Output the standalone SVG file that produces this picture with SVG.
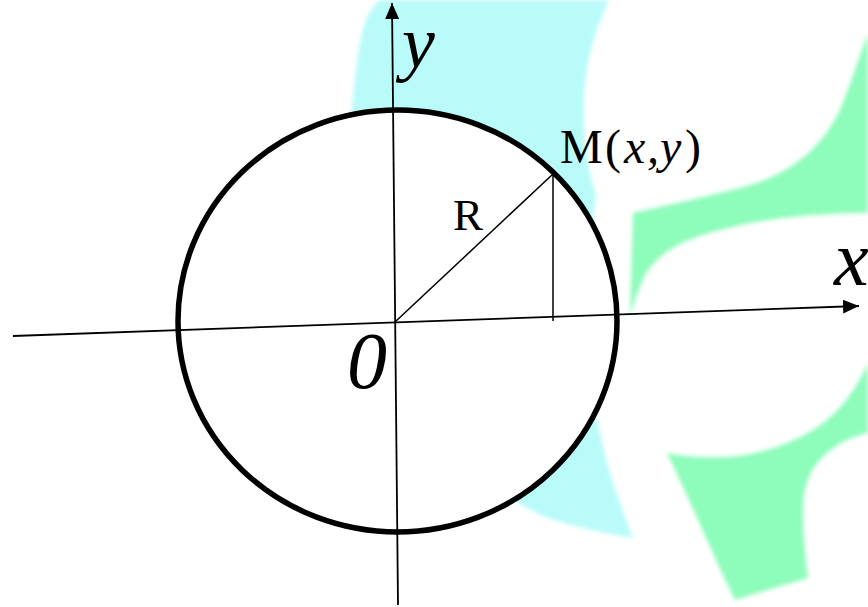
<svg xmlns="http://www.w3.org/2000/svg" width="868" height="607" viewBox="0 0 868 607">
  <style>
    .bg-cyan { fill: #b9fbf9; }
    .bg-green { fill: #8efcbb; }
    .axis { stroke: #000; stroke-width: 1.8; fill: none; }
    .thin { stroke: #000; stroke-width: 1.5; fill: none; }
    .circle { stroke: #000; stroke-width: 5.5; fill: #fff; }
    .lbl { font-family: "Liberation Serif", "Times New Roman", serif; fill: #000; }
    .it { font-style: italic; }
  </style>
  <defs>
    <filter id="soft" x="-10%" y="-10%" width="120%" height="120%">
      <feGaussianBlur stdDeviation="2"/>
    </filter>
    <marker id="arrow" markerUnits="userSpaceOnUse" markerWidth="17" markerHeight="15" refX="16" refY="7" orient="auto">
      <path d="M0,0 L16,7 L0,14 Z" fill="#000"/>
    </marker>
  </defs>
  <rect width="868" height="607" fill="#fff"/>
  <g id="background" filter="url(#soft)">
    <path class="bg-cyan" d="M 380,0 L 609,0 C 600,20 590,45 586,75 C 581,110 584,160 596,195 L 592,225 L 400,250 L 351,118 C 355,80 358,40 366,20 C 370,10 375,4 380,0 Z"/>
    <path class="bg-cyan" d="M 585,400 L 597,420 C 600,435 604,450 607,463 C 612,480 620,505 633,538 C 605,533 575,528 540,515 L 518,503 L 500,480 Z"/>
    <path class="bg-green" d="M 633,213 C 660,207 700,198 740,188 C 790,175 820,150 840,110 C 852,80 860,55 868,33 L 868,213 C 840,213 780,215 733,227 C 690,236 660,250 645,275 C 638,290 633,305 630,317 Z"/>
    <path class="bg-green" d="M 667,453 C 690,458 715,458 740,456 C 775,450 805,438 827,420 C 845,405 858,385 868,363 L 868,433 C 850,437 835,445 825,455 C 808,470 803,490 803,510 C 803,540 806,560 808,578 C 785,585 760,592 735,600 C 715,560 690,500 667,453 Z"/>
  </g>
  <g id="circle">
    <ellipse class="circle" cx="397.5" cy="321" rx="219.5" ry="211"/>
  </g>
  <g id="connectors">
    <line id="x-axis" class="axis" x1="13" y1="336" x2="859" y2="306" marker-end="url(#arrow)"/>
    <line id="y-axis" class="axis" x1="398" y1="605" x2="392" y2="3" marker-end="url(#arrow)"/>
    <line id="radius" class="thin" x1="395" y1="322" x2="553" y2="174"/>
    <line id="ordinate" class="thin" x1="553" y1="174" x2="553" y2="321"/>
  </g>
  <g id="label-y"><text class="lbl it" x="402" y="67" font-size="74">y</text></g>
  <g id="label-x"><text class="lbl it" x="834" y="285" font-size="78">x</text></g>
  <g id="label-origin"><text class="lbl it" x="347" y="388" font-size="80">0</text></g>
  <g id="label-R"><text class="lbl" x="453" y="230" font-size="45">R</text></g>
  <g id="label-M"><text class="lbl" y="163" font-size="48"><tspan x="560">M</tspan><tspan x="605">(</tspan><tspan class="it" x="624">x</tspan><tspan class="it" x="647">,</tspan><tspan class="it" x="660">y</tspan><tspan x="685">)</tspan></text></g>
</svg>
